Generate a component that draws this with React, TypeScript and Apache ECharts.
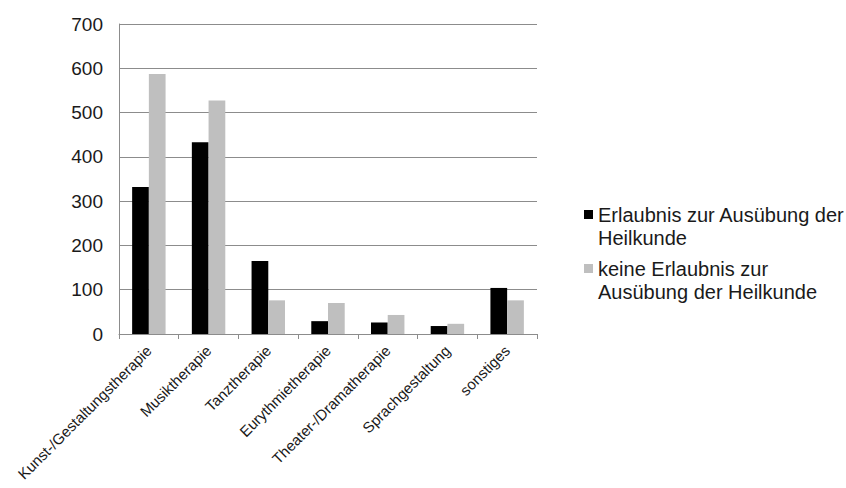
import React, { useEffect, useRef } from "react";
import * as echarts from "echarts";

const categories = [
  "Kunst-/Gestaltungstherapie",
  "Musiktherapie",
  "Tanztherapie",
  "Eurythmietherapie",
  "Theater-/Dramatherapie",
  "Sprachgestaltung",
  "sonstiges",
];
const seriesNames = [
  "Erlaubnis zur Ausübung der Heilkunde",
  "keine Erlaubnis zur Ausübung der Heilkunde",
];
const legendLabels = [
  "Erlaubnis zur Ausübung der\nHeilkunde",
  "keine Erlaubnis zur\nAusübung der Heilkunde",
];
const withPermission = [332, 433, 165, 29, 26, 18, 104];
const withoutPermission = [587, 527, 76, 70, 43, 23, 76];
const yTicks = [0, 100, 200, 300, 400, 500, 600, 700];

const FONT = "'Liberation Sans', Arial, sans-serif";

export default function App() {
  const ref = useRef<HTMLDivElement>(null);
  useEffect(() => {
    if (!ref.current) return;
    const chart = echarts.init(ref.current, null, { renderer: "svg" });
    const legendCommon = {
      orient: "vertical" as const,
      left: 584,
      padding: 0,
      itemWidth: 9,
      itemHeight: 9,
      itemGap: 0,
      icon: "rect",
      textStyle: {
        fontFamily: FONT,
        fontSize: 20,
        color: "#1a1a1a",
        lineHeight: 23,
      },
      formatter: (name: string) => "\n" + legendLabels[seriesNames.indexOf(name)],
    };
    chart.setOption({
      animation: false,
      backgroundColor: "#ffffff",
      grid: {
        left: 119,
        right: 309,
        top: 24,
        bottom: 154,
        containLabel: false,
        outerBoundsMode: "none",
      },
      legend: [
        { ...legendCommon, data: [seriesNames[0]], top: 180 },
        { ...legendCommon, data: [seriesNames[1]], top: 234 },
      ],
      xAxis: {
        type: "category",
        data: categories,
        axisLine: { show: true, lineStyle: { color: "#8c8c8c", width: 1 } },
        axisTick: { show: true, length: 5, lineStyle: { color: "#8c8c8c" } },
        axisLabel: {
          rotate: 45,
          interval: 0,
          margin: 14,
          fontFamily: FONT,
          fontSize: 15,
          color: "#1a1a1a",
        },
      },
      yAxis: {
        type: "value",
        min: 0,
        max: 700,
        interval: 100,
        axisLine: { show: true, lineStyle: { color: "#8c8c8c", width: 1 } },
        axisTick: { show: false },
        splitLine: { show: true, lineStyle: { color: "#8c8c8c", width: 1 } },
        axisLabel: {
          margin: 16,
          fontFamily: FONT,
          fontSize: 19,
          color: "#1a1a1a",
          formatter: (v: number) => (yTicks.includes(v) ? String(v) : ""),
        },
      },
      series: [
        {
          name: seriesNames[0],
          type: "bar",
          data: withPermission,
          itemStyle: { color: "#000000" },
          barGap: "0%",
          barCategoryGap: "44%",
        },
        {
          name: seriesNames[1],
          type: "bar",
          data: withoutPermission,
          itemStyle: { color: "#bfbfbf" },
          barGap: "0%",
          barCategoryGap: "44%",
        },
      ],
    });
    return () => chart.dispose();
  }, []);
  return <div ref={ref} style={{ width: 846, height: 488, position: "absolute", left: 0, top: 0 }} />;
}
